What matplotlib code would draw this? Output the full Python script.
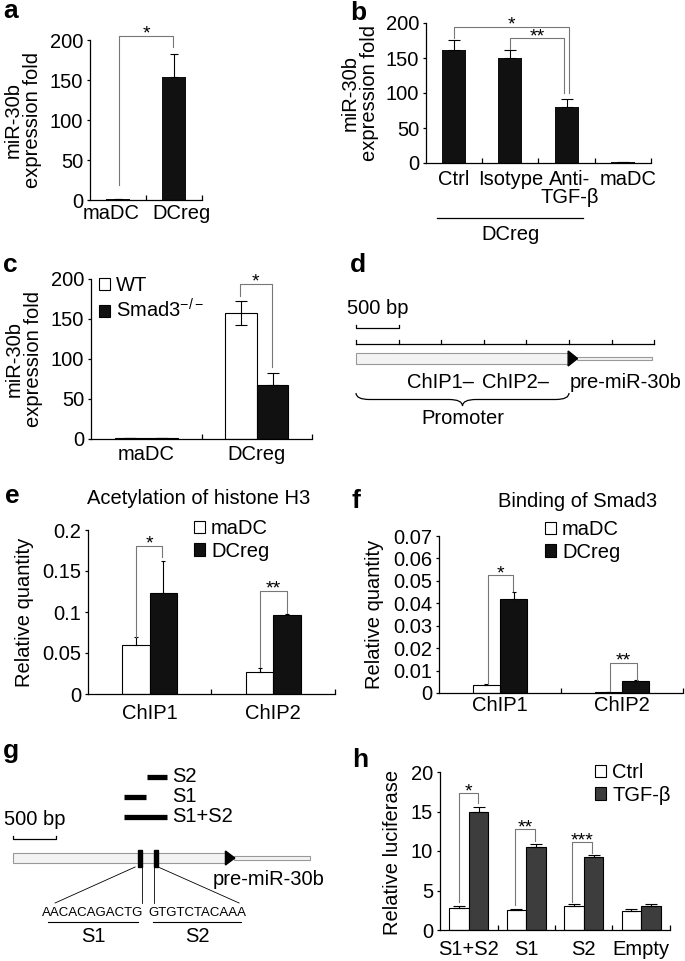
import numpy as np
import matplotlib.pyplot as plt
import matplotlib.transforms as mtransforms
from matplotlib.patches import Rectangle, Polygon, PathPatch
from matplotlib.path import Path

plt.rcParams['font.family'] = ['Liberation Sans', 'DejaVu Sans']
plt.rcParams['mathtext.fontset'] = 'custom'
plt.rcParams['mathtext.rm'] = 'Liberation Sans'
plt.rcParams['font.size'] = 14.5
plt.rcParams['axes.linewidth'] = 0.9

# ----- data
# a
a_groups = ['maDC', 'DCreg']
a_mean = [1, 154]
a_err = [0, 28]
# b
b_groups = ['Ctrl', 'Isotype', 'Anti-\nTGF-β', 'maDC']
b_mean = [162, 150, 80, 1]
b_err = [13, 12, 12, 0]
# c
c_groups = ['maDC', 'DCreg']
c_wt = [1, 158]
c_wt_err = [0, 15]
c_ko = [1, 68]
c_ko_err = [0, 14]
# e / f
chip_sites = ['ChIP1', 'ChIP2']
e_madc = [0.060, 0.027]
e_madc_err = [0.009, 0.005]
e_dcreg = [0.123, 0.096]
e_dcreg_err = [0.039, 0.002]
f_madc = [0.0035, 0.0003]
f_madc_err = [0.0005, 0]
f_dcreg = [0.042, 0.0053]
f_dcreg_err = [0.003, 0.0005]
# h
h_constructs = ['S1+S2', 'S1', 'S2', 'Empty']
h_ctrl = [2.8, 2.5, 3.0, 2.4]
h_ctrl_err = [0.3, 0.2, 0.25, 0.3]
h_tgf = [14.9, 10.5, 9.2, 3.0]
h_tgf_err = [0.7, 0.4, 0.25, 0.25]

# schematics (bp)
ruler_end = 3500
promoter = (0, 2500)
tail_end = 3480
s1_site = (1460, 1510)
s2_site = (1655, 1700)
constructs = {'S2': (1570, 1800), 'S1': (1300, 1560), 'S1+S2': (1300, 1800)}
seq_s1 = 'AACACAGACTG'
seq_s2 = 'GTGTCTACAAA'

W, H = 685, 961
fig = plt.figure(figsize=(W / 100, H / 100), dpi=100)
px = mtransforms.Affine2D().scale(1 / W, -1 / H).translate(0, 1) + fig.transFigure
fpx = mtransforms.blended_transform_factory(fig.transFigure, px)

BRK = '#777777'


def add_ax(l, t, r, b):
    return fig.add_axes([l / W, 1 - b / H, (r - l) / W, (b - t) / H])


def style_bar_axes(ax, n, ylim, yticks, ylabels, xlabels, pad, label_x=None):
    ax.set_xlim(0, n)
    ax.set_ylim(*ylim)
    ax.spines[['top', 'right']].set_visible(False)
    ax.set_yticks(yticks, ylabels)
    if label_x is None:
        label_x = np.arange(n) + 0.5
    ax.set_xticks(label_x, xlabels)
    ax.set_xticks(np.arange(1, n + 1), minor=True)
    ax.tick_params(axis='x', which='major', length=0, pad=pad)
    ax.tick_params(axis='x', which='minor', direction='in', length=3.5, width=0.9)
    ax.tick_params(axis='y', direction='out', length=2.5, pad=2.5, width=0.9)
    for t in ax.get_xticklabels():
        t.set_linespacing(0.95)


def bracket(ax, xl, yl, xr, yr, ytop, label):
    ax.plot([xl, xl, xr, xr], [yl, ytop, ytop, yr], color=BRK, lw=0.8, clip_on=False)
    ax.annotate(label, ((xl + xr) / 2, ytop), xytext=(0, -2), textcoords='offset points',
                ha='center', va='baseline', fontsize=14, annotation_clip=False)


def ylabel_at(text, x, y):
    fig.text(x, y, text, transform=px, rotation=90, ha='center', va='center',
             ma='center', linespacing=1.05)


def letter(s, x, y):
    fig.text(x, y, s, transform=px, fontsize=19, fontweight='bold', ha='left', va='baseline')


def legend_at(ax, handles, labels, x, y):
    ax.legend(handles, labels, loc='upper left', bbox_to_anchor=(x, y), bbox_transform=px,
              frameon=False, borderpad=0, borderaxespad=0, handlelength=0.55,
              handleheight=0.55, handletextpad=0.3, labelspacing=0.18, fontsize=14.5)


def grouped(ax, left, right, lerr, rerr, off, w, lcolor, rcolor, cap, werr_both=False):
    x = np.arange(len(left)) + 0.5
    b1 = ax.bar(x - off, left, w, color=lcolor, edgecolor='black', lw=0.8)
    b2 = ax.bar(x + off, right, w, color=rcolor, edgecolor='black', lw=0.8)
    lo = lerr if werr_both else np.zeros(len(lerr))
    ax.errorbar(x - off, left, yerr=[lo, lerr], fmt='none', ecolor='black', elinewidth=0.8,
                capsize=cap, capthick=0.8)
    ax.errorbar(x + off, right, yerr=[np.zeros(len(rerr)), rerr], fmt='none', ecolor='black',
                elinewidth=0.8, capsize=cap, capthick=0.8)
    return b1, b2


# ----- a
ax = add_ax(90, 40, 202, 200)
x = np.arange(len(a_groups)) + 0.5
ax.bar(x, a_mean, 0.43, color='#111111')
ax.errorbar(x, a_mean, yerr=[np.zeros(2), a_err], fmt='none', ecolor='black', elinewidth=0.8,
            capsize=2.8, capthick=0.8)
style_bar_axes(ax, 2, (0, 200), range(0, 201, 50), ['0', '50', '100', '150', '200'], a_groups, 3,
               label_x=[0.38, 1.63])
bracket(ax, 0.52, 19, 1.48, 191, 205, '*')
ylabel_at('miR-30b\nexpression fold', 23, 120)
letter('a', 3, 18)

# ----- b
ax = add_ax(426, 23, 651, 163)
x = np.arange(len(b_groups)) + 0.5
ax.bar(x, b_mean, 0.43, color='#111111')
ax.errorbar(x, b_mean, yerr=[np.zeros(4), b_err], fmt='none', ecolor='black', elinewidth=0.8,
            capsize=4.5, capthick=0.8)
style_bar_axes(ax, 4, (0, 200), range(0, 201, 50), ['0', '50', '100', '150', '200'], b_groups, 5,
               label_x=[0.5, 1.5, 2.55, 3.6])
bracket(ax, 0.5, 178, 2.54, 100, 195, '*')
bracket(ax, 1.49, 163, 2.45, 100, 178, '**')
bt = mtransforms.blended_transform_factory(ax.transData, px)
ax.plot([0.2, 2.8], [218, 218], color='black', lw=0.9, transform=bt, clip_on=False)
ax.text(1.5, 234, 'DCreg', transform=bt, ha='center', va='center')
ylabel_at('miR-30b\nexpression fold', 360, 93)
letter('b', 350, 20)

# ----- c
ax = add_ax(91, 279, 312, 439)
b1, b2 = grouped(ax, c_wt, c_ko, c_wt_err, c_ko_err, 0.143, 0.285, 'white', '#111111', 4.5,
                 werr_both=True)
style_bar_axes(ax, 2, (0, 200), range(0, 201, 50), ['0', '50', '100', '150', '200'], c_groups, 4)
bracket(ax, 1.345, 179, 1.634, 90, 194, '*')
legend_at(ax, [b1, b2], ['WT', r'Smad3$^{\mathregular{-/-}}$'], 99, 276)
ylabel_at('miR-30b\nexpression fold', 24, 359)
letter('c', 3, 272)

# ----- e
ax = add_ax(88, 530, 335, 694)
b1, b2 = grouped(ax, e_madc, e_dcreg, e_madc_err, e_dcreg_err, 0.111, 0.222, 'white', '#111111', 1.6)
style_bar_axes(ax, 2, (0, 0.2), [0, 0.05, 0.1, 0.15, 0.2], ['0', '0.05', '0.1', '0.15', '0.2'],
               chip_sites, 7)
bracket(ax, 0.389, 0.07, 0.599, 0.167, 0.181, '*')
bracket(ax, 1.39, 0.033, 1.61, 0.099, 0.1255, '**')
legend_at(ax, [b1, b2], ['maDC', 'DCreg'], 194, 519)
fig.text(199 / W, 504, 'Acetylation of histone H3', transform=fpx, ha='center', va='baseline')
ylabel_at('Relative quantity', 25, 612)
letter('e', 5, 503)

# ----- f
ax = add_ax(439, 536, 683, 693)
b1, b2 = grouped(ax, f_madc, f_dcreg, f_madc_err, f_dcreg_err, 0.112, 0.225, 'white', '#111111', 1.6)
style_bar_axes(ax, 2, (0, 0.07), np.arange(0, 0.071, 0.01),
               ['0'] + ['%.2f' % v for v in np.arange(0.01, 0.071, 0.01)], chip_sites, 2)
bracket(ax, 0.40, 0.004, 0.607, 0.0453, 0.0525, '*')
bracket(ax, 1.40, 0.001, 1.62, 0.0058, 0.0133, '**')
legend_at(ax, [b1, b2], ['maDC', 'DCreg'], 545, 520)
fig.text(578 / W, 507, 'Binding of Smad3', transform=fpx, ha='center', va='baseline')
ylabel_at('Relative quantity', 375, 614)
letter('f', 352, 508)

# ----- h
ax = add_ax(440, 772, 670, 930)
b1, b2 = grouped(ax, h_ctrl, h_tgf, h_ctrl_err, h_tgf_err, 0.17, 0.34, 'white', '#3d3d3d', 4)
style_bar_axes(ax, 4, (0, 20), range(0, 21, 5), ['0', '5', '10', '15', '20'], h_constructs, 7)
bracket(ax, 0.33, 3.6, 0.66, 16.1, 17.3, '*')
bracket(ax, 1.30, 3.2, 1.65, 11.3, 12.75, '**')
bracket(ax, 2.30, 3.6, 2.64, 9.7, 11.1, '***')
legend_at(ax, [b1, b2], ['Ctrl', 'TGF-β'], 595, 763)
ylabel_at('Relative luciferase', 393, 852)
letter('h', 352, 767)


# ----- schematics
def map_axes(l, t, r, b, origin, scale):
    ax = add_ax(l, t, r, b)
    ax.set_xlim((l - origin) / scale, (r - origin) / scale)
    ax.set_ylim(b, t)
    ax.axis('off')
    return ax


def gene(ax, y0, y1):
    ym = (y0 + y1) / 2
    ax.add_patch(Rectangle((promoter[0], y0), promoter[1] - promoter[0], y1 - y0,
                           facecolor='#f3f3f3', edgecolor='#999999', lw=0.8))
    ax.add_patch(Rectangle((promoter[1] + 90, ym - 1.6), tail_end - promoter[1] - 90, 3.2,
                           facecolor='#f3f3f3', edgecolor='#999999', lw=0.8))
    ax.add_patch(Polygon([(promoter[1] - 10, y0 - 2), (promoter[1] + 100, ym),
                          (promoter[1] - 10, y1 + 2)], closed=True, color='black'))


def scale_bar(ax, y, label, ty):
    ax.plot([0, 0, 500, 500], [y - 3, y, y, y - 3], color='black', lw=0.9)
    ax.text(-105, ty, label, ha='left', va='center')


def brace(ax, x0, x1, y0, h, r):
    xm = (x0 + x1) / 2
    ym = y0 + h / 2
    verts = [(x0, y0), (x0, ym), (x0 + r, ym), (xm - r, ym), (xm, ym), (xm, y0 + h),
             (xm, ym), (xm + r, ym), (x1 - r, ym), (x1, ym), (x1, y0)]
    codes = [Path.MOVETO, Path.CURVE3, Path.CURVE3, Path.LINETO, Path.CURVE3, Path.CURVE3,
             Path.CURVE3, Path.CURVE3, Path.LINETO, Path.CURVE3, Path.CURVE3]
    ax.add_patch(PathPatch(Path(verts, codes), facecolor='none', edgecolor='black', lw=0.9))


# d
BP = 0.0852
ax = map_axes(340, 240, 685, 440, 356, BP)
scale_bar(ax, 328, '500 bp', 309)
ticks = np.arange(0, ruler_end + 1, 500)
ax.plot([0, ruler_end], [344, 344], color='black', lw=0.9)
for t in ticks:
    ax.plot([t, t], [344, 340], color='black', lw=0.9)
gene(ax, 353, 364)
ax.text(600, 382, 'ChIP1–', ha='left', va='center')
ax.text(1480, 382, 'ChIP2–', ha='left', va='center')
ax.text(2510, 382, 'pre-miR-30b', ha='left', va='center')
brace(ax, promoter[0], promoter[1], 393, 13, 160)
ax.text(sum(promoter) / 2, 418, 'Promoter', ha='center', va='center')
letter('d', 350, 272)

# g
ax = map_axes(0, 740, 340, 961, 13.3, BP)
for (name, (s, e)), y in zip(constructs.items(), [777, 797, 817]):
    ax.plot([s, e], [y, y], color='black', lw=3.8, solid_capstyle='butt')
    ax.text(1870, y, name, ha='left', va='center')
scale_bar(ax, 839, '500 bp', 820)
gene(ax, 853, 863)
for s, e in (s1_site, s2_site):
    ax.add_patch(Rectangle((s, 850), e - s, 17, color='black'))
ax.plot([s1_site[0] - 30, 490], [867, 903], color='black', lw=0.6)
ax.plot([s1_site[1], s1_site[1]], [867, 903], color='black', lw=0.6)
ax.plot([s2_site[0], s2_site[0]], [867, 903], color='black', lw=0.6)
ax.plot([s2_site[1], 2650], [867, 903], color='black', lw=0.6)
for seq, (u0, u1), lab in [(seq_s1, (407, 1463), 'S1'), (seq_s2, (1640, 2673), 'S2')]:
    xc = (u0 + u1) / 2
    ax.text(xc, 913, seq, ha='center', va='center', fontsize=9.5)
    ax.plot([u0, u1], [922, 922], color='black', lw=0.8)
    ax.text(xc, 937, lab, ha='center', va='center')
ax.text(2345, 880, 'pre-miR-30b', ha='left', va='center')
letter('g', 3, 758)

fig.savefig('out.png', dpi=100)
